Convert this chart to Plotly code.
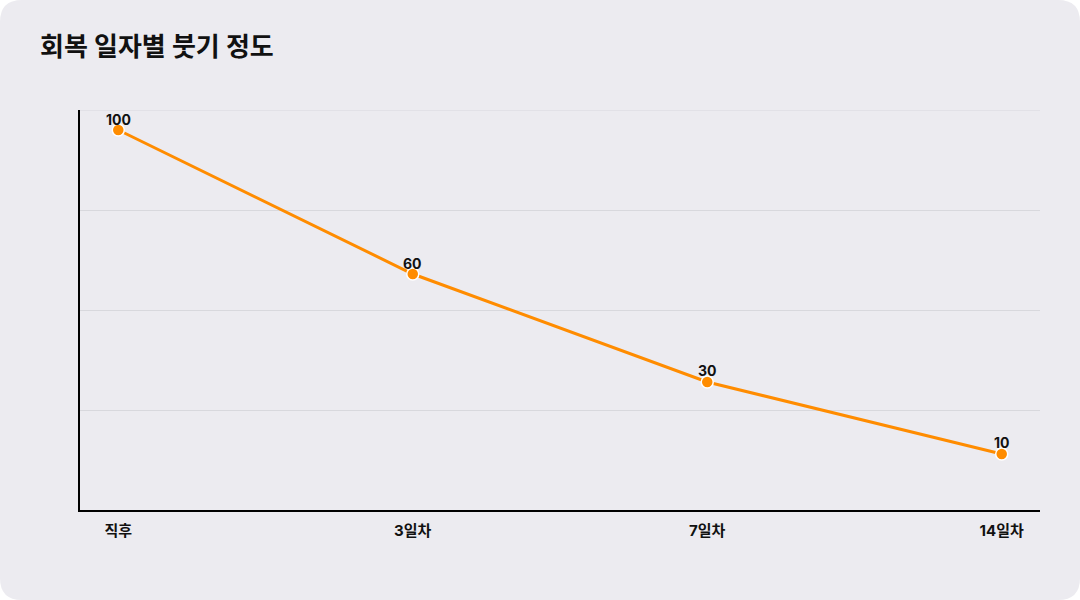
import plotly.graph_objects as go

# chart values
days = ["직후", "3일차", "7일차", "14일차"]
swelling = [100, 60, 30, 10]
grid_vals = [-5.56, 22.22, 50, 77.78, 105.56]

W, H = 1080, 600
ML, MR, MT, MB = 80, 40, 110, 90
PW, PH = W - ML - MR, H - MT - MB
FONT = "Inter, Noto Sans CJK KR"


def px_x(v):
    return (v - ML) / PW


def px_y(v):
    return (H - MB - v) / PH


# rounded card behind the chart
r = 22
x0, x1 = px_x(0), px_x(W)
y0, y1 = px_y(0), px_y(H)
rx, ry = r / PW, r / PH
card = (
    f"M {x0 + rx},{y0} L {x1 - rx},{y0} Q {x1},{y0} {x1},{y0 - ry} "
    f"L {x1},{y1 + ry} Q {x1},{y1} {x1 - rx},{y1} "
    f"L {x0 + rx},{y1} Q {x0},{y1} {x0},{y1 + ry} "
    f"L {x0},{y0 - ry} Q {x0},{y0} {x0 + rx},{y0} Z"
)

fig = go.Figure()
fig.add_trace(go.Scatter(
    x=days,
    y=swelling,
    mode="lines+markers",
    line=dict(color="#FF8C00", width=3),
    marker=dict(size=12, color="#FF8C00", line=dict(color="white", width=1.5)),
    cliponaxis=False,
    hoverinfo="skip",
))

# value labels just above each point
for d, v in zip(days, swelling):
    fig.add_annotation(
        x=d, y=v, text=f"<b>{v}</b>", showarrow=False,
        yshift=11, yanchor="middle",
        font=dict(family=FONT, size=14, color="#111111"),
    )

fig.update_layout(
    width=W,
    height=H,
    margin=dict(l=ML, r=MR, t=MT, b=MB),
    paper_bgcolor="white",
    plot_bgcolor="rgba(0,0,0,0)",
    showlegend=False,
    font=dict(family=FONT, color="#111111"),
    title=dict(
        text="<b>회복 일자별 붓기 정도</b>",
        x=40 / W, xanchor="left",
        y=1 - 47 / H, yanchor="middle",
        font=dict(size=26, color="#111111"),
    ),
    shapes=[
        dict(type="path", path=card, xref="paper", yref="paper",
             fillcolor="#ECEBF0", line=dict(width=0), layer="below"),
        dict(type="line", xref="paper", yref="y", x0=0, x1=1,
             y0=grid_vals[-1], y1=grid_vals[-1],
             line=dict(color="#D8D8DD", width=1), layer="below"),
    ],
)

fig.update_xaxes(
    range=[-0.13, 3.13],
    showgrid=False,
    showline=True, linecolor="#000000", linewidth=2,
    ticks="outside", ticklen=6, tickcolor="rgba(0,0,0,0)",
    tickfont=dict(size=15, color="#111111", weight="bold"),
    zeroline=False,
)
fig.update_yaxes(
    range=[grid_vals[0], grid_vals[-1]],
    tickvals=grid_vals,
    showticklabels=False,
    showgrid=True, gridcolor="#D8D8DD", gridwidth=1,
    showline=True, linecolor="#000000", linewidth=2,
    zeroline=False,
)

fig.write_html(
    "out.html",
    config={"displayModeBar": False},
    post_script="document.body.style.margin='0';",
)
